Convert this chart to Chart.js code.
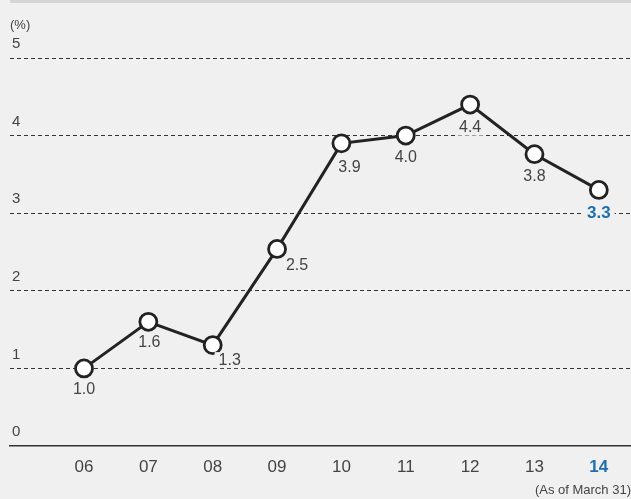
<!DOCTYPE html>
<html>
<head>
<meta charset="utf-8">
<script src="https://cdn.jsdelivr.net/npm/chart.js@4/dist/chart.umd.min.js"></script>
<style>
  html, body { margin: 0; padding: 0; background: #f0f0f0; }
  #wrap { position: relative; width: 631px; height: 499px; }
  #topbar { position: absolute; left: 10px; top: 0; width: 621px; height: 3px; background: #d6d6d6; }
  canvas { position: absolute; left: 0; top: 0; }
</style>
</head>
<body>
<div id="wrap">
  <div id="topbar"></div>
  <canvas id="chart" width="631" height="499"></canvas>
</div>
<script>
'use strict';

const years = ['06', '07', '08', '09', '10', '11', '12', '13', '14'];
const ratio = [1.0, 1.6, 1.3, 2.54, 3.9, 4.0, 4.4, 3.76, 3.3];
const ratioLabels = ['1.0', '1.6', '1.3', '2.5', '3.9', '4.0', '4.4', '3.8', '3.3'];
const yTicks = [0, 1, 2, 3, 4, 5];

// label nudges from the point (dx, dy)
const nudge = [[0, 21], [1, 21], [17, 15], [20, 17], [8, 24], [0, 22], [0, 23], [0, 22], [0, 23]];

const GREY = '#444';
const BLUE = '#1f6fb0';
const BG = '#f0f0f0';
const FONT = "'Liberation Sans', Arial, sans-serif";
const last = years.length - 1;

const extras = {
  id: 'extras',
  afterDatasetsDraw(chart) {
    const ctx = chart.ctx;
    const meta = chart.getDatasetMeta(0);
    ctx.save();
    ctx.textAlign = 'center';
    ctx.textBaseline = 'middle';
    meta.data.forEach((pt, i) => {
      const hi = i === last;
      const x = pt.x + nudge[i][0], y = pt.y + nudge[i][1];
      ctx.font = (hi ? 'bold 17px ' : '16px ') + FONT;
      const w = ctx.measureText(ratioLabels[i]).width;
      ctx.fillStyle = BG;
      ctx.fillRect(x - w / 2 - 4, y - 8, w + 8, 16);
      ctx.fillStyle = hi ? BLUE : GREY;
      ctx.fillText(ratioLabels[i], x, y);
    });
    ctx.fillStyle = GREY;
    ctx.font = '13px ' + FONT;
    ctx.textAlign = 'left';
    ctx.fillText('(%)', 10, 25);
    ctx.textAlign = 'right';
    ctx.fillText('(As of March 31)', 631, 490);
    ctx.restore();
  }
};

new Chart(document.getElementById('chart').getContext('2d'), {
  type: 'line',
  data: {
    datasets: [{
      data: ratio.map((v, i) => ({ x: i, y: v })),
      borderColor: '#222',
      borderWidth: 3,
      pointRadius: 8.5,
      pointBorderWidth: 2.8,
      pointBackgroundColor: '#fff',
      pointBorderColor: '#222',
      tension: 0
    }]
  },
  options: {
    responsive: false,
    animation: false,
    events: [],
    layout: { autoPadding: false, padding: { left: 10, right: 0, top: 58, bottom: 0 } },
    plugins: { legend: { display: false }, tooltip: { enabled: false } },
    scales: {
      x: {
        type: 'linear',
        min: -1.15,
        max: 8.5,
        afterFit: s => { s.height = 53; s.paddingLeft = 0; s.paddingRight = 0; },
        afterBuildTicks: s => { s.ticks = years.map((_, i) => ({ value: i })); },
        grid: { display: false, drawTicks: false },
        border: { display: true, color: '#333', width: 1.5 },
        ticks: {
          padding: 11,
          autoSkip: false,
          maxRotation: 0,
          callback: v => years[v],
          color: c => c.index === last ? BLUE : GREY,
          font: c => ({ family: FONT, size: 17, weight: c.index === last ? 'bold' : 'normal' })
        }
      },
      y: {
        min: 0,
        max: 5,
        afterFit: s => { s.width = 0; },
        afterBuildTicks: s => { s.ticks = yTicks.map(v => ({ value: v })); },
        grid: {
          drawTicks: false,
          color: c => c.tick && c.tick.value === 0 ? 'rgba(0,0,0,0)' : '#333',
          lineWidth: 1
        },
        border: { display: false, dash: [4, 3] },
        ticks: {
          mirror: true,
          padding: 2,
          labelOffset: -14,
          color: GREY,
          font: { family: FONT, size: 15 }
        }
      }
    }
  },
  plugins: [extras]
});
</script>
</body>
</html>
